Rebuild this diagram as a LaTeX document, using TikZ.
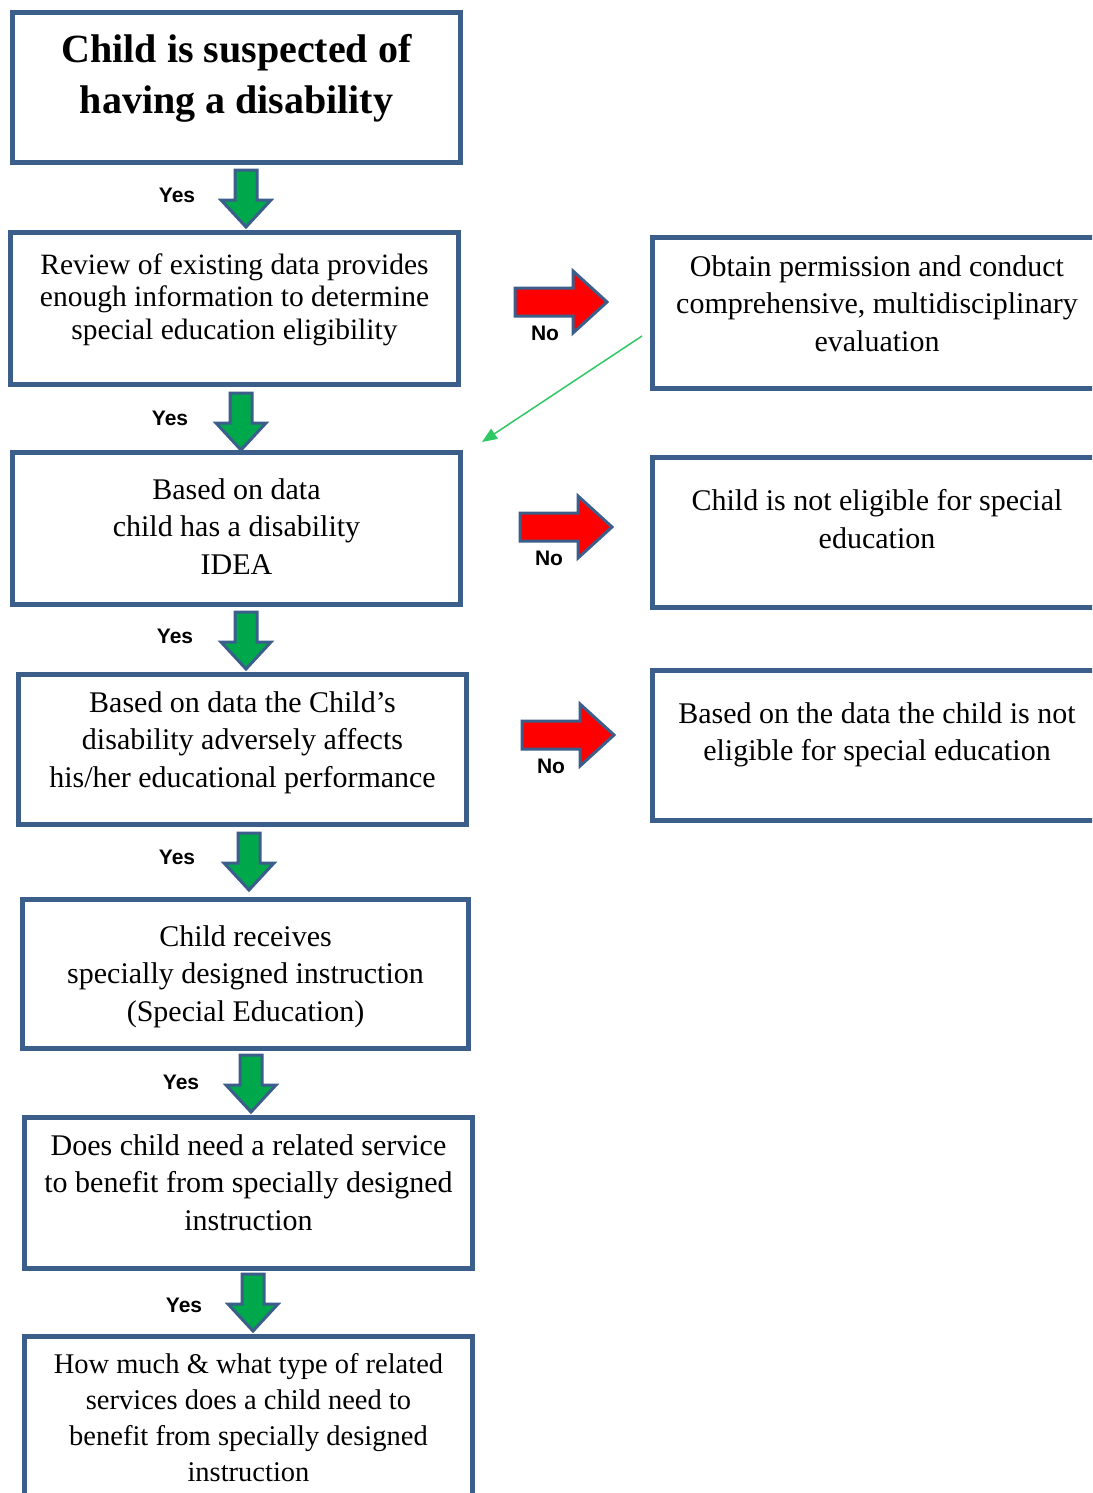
\documentclass[tikz,border=0pt]{standalone}
\usepackage{fontspec}
\setmainfont{Liberation Serif}
\newfontfamily\yesnofont{Liberation Sans}
\usetikzlibrary{arrows.meta}
\definecolor{boxblue}{RGB}{59,94,139}
\definecolor{yesgreen}{RGB}{0,168,76}
\definecolor{nored}{RGB}{255,0,0}
\definecolor{linegreen}{RGB}{46,200,100}
% box text: height, top gap, lines
\newcommand{\boxlines}[3]{\parbox[c][#1pt][t]{444pt}{\centering\vspace*{#2pt}#3}}

\tikzset{
    flowbox/.style={draw=boxblue, line width=5pt, inner sep=0pt,
        minimum width=448pt, minimum height=150pt,
        font=\fontsize{30}{37.5}\selectfont},
    answer/.style={font=\yesnofont\bfseries\fontsize{21}{21}\selectfont},
    blockline/.style={draw=boxblue, line width=3pt, line join=miter},
    seeline/.style={draw=linegreen, line width=1.5pt, -{Triangle[length=15pt,width=12pt]}},
    yesarrow/.pic={\draw[blockline, fill=yesgreen] (-11,0) -- (11,0) -- (11,30) -- (25,30) -- (0,57) -- (-25,30) -- (-11,30) -- cycle;},
    noarrow/.pic={\draw[blockline, fill=nored] (0,-14) -- (58,-14) -- (58,-31) -- (92,0) -- (58,31) -- (58,14) -- (0,14) -- cycle;}
}

\begin{document}
\begin{tikzpicture}[x=1pt, y=-1pt]
    \useasboundingbox (0,0) rectangle (1092,1493);
    \clip (0,0) rectangle (1092,1493);
    % Draw the boxes of the left column
    \node[flowbox, font=\bfseries\fontsize{40}{51}\selectfont] (suspect) at (236.5,87.5)
        {\boxlines{140}{17}{Child is suspected of\\having a disability}};
    \node[flowbox, minimum height=152pt, font=\fontsize{29.5}{32.5}\selectfont] (review) at (234.5,308.5)
        {\boxlines{142}{16}{Review of existing data provides\\enough information to determine\\special education eligibility}};
    \node[flowbox, minimum height=152pt] (idea) at (236.5,528.5)
        {\boxlines{142}{21}{Based on data\\child has a disability\\IDEA}};
    \node[flowbox] (affects) at (242.5,749.5)
        {\boxlines{140}{12}{Based on data the Child's\\disability adversely affects\\his/her educational performance}};
    \node[flowbox, minimum width=446pt, minimum height=149pt] (sdi) at (245.5,974)
        {\boxlines{139}{21}{Child receives\\specially designed instruction\\(Special Education)}};
    \node[flowbox, minimum height=151pt] (related) at (248.5,1193)
        {\boxlines{141}{12}{Does child need a related service\\to benefit from specially designed\\instruction}};
    \node[flowbox, minimum height=181pt, font=\fontsize{28.5}{36}\selectfont] (howmuch) at (248.5,1427)
        {\boxlines{171}{12}{How much \& what type of related\\services does a child need to\\benefit from specially designed\\instruction}};
    % Draw the boxes of the right column
    \node[flowbox, minimum width=449pt, minimum height=151pt] (obtain) at (877,313)
        {\boxlines{141}{13}{Obtain permission and conduct\\comprehensive, multidisciplinary\\evaluation}};
    \node[flowbox, minimum width=449pt] (notelig) at (877,532.5)
        {\boxlines{140}{27}{Child is not eligible for special\\education}};
    \node[flowbox, minimum width=449pt] (noteffect) at (877,745.5)
        {\boxlines{140}{27}{Based on the data the child is not\\eligible for special education}};
    % Draw the yes arrows
    \pic at (246,170) {yesarrow};
    \pic at (241,393) {yesarrow};
    \pic at (246,612) {yesarrow};
    \pic at (249,833) {yesarrow};
    \pic at (251,1055) {yesarrow};
    \pic at (253,1274) {yesarrow};
    \node[answer] (yes1) at (177,195) {Yes};
    \node[answer] (yes2) at (170,418) {Yes};
    \node[answer] (yes3) at (175,636) {Yes};
    \node[answer] (yes4) at (177,857) {Yes};
    \node[answer] (yes5) at (181,1082) {Yes};
    \node[answer] (yes6) at (184,1305) {Yes};
    % Draw the no arrows
    \pic at (515,302) {noarrow};
    \pic at (520,527) {noarrow};
    \pic at (522,735) {noarrow};
    \node[answer] (no1) at (545,333) {No};
    \node[answer] (no2) at (549,558) {No};
    \node[answer] (no3) at (551,766) {No};
    % Back from the evaluation
    \draw[seeline] ([xshift=-8pt,yshift=-23pt]obtain.west) -- ([xshift=19pt,yshift=8pt]idea.north east);
\end{tikzpicture}
\end{document}
